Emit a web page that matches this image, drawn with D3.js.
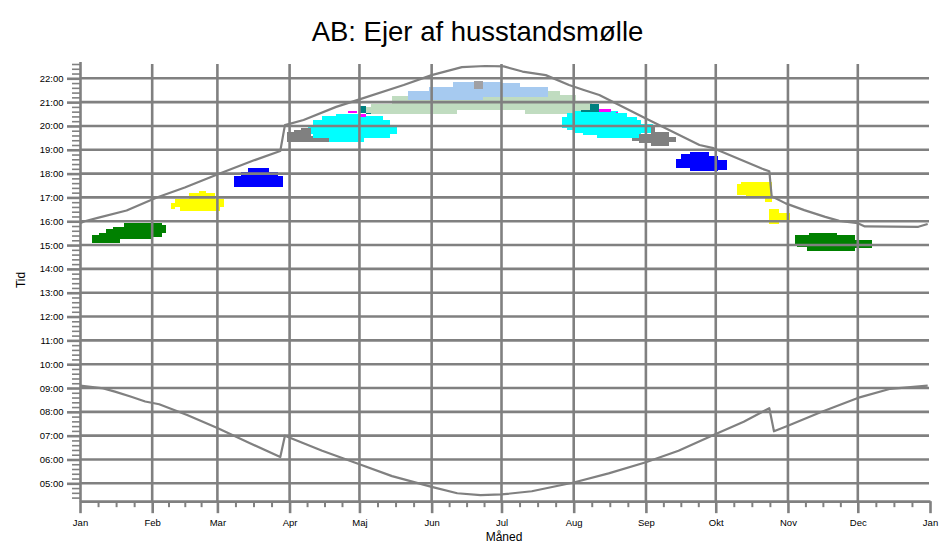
<!DOCTYPE html>
<html><head><meta charset="utf-8">
<script src="https://cdn.jsdelivr.net/npm/d3@7"></script>
<style>
html,body{margin:0;padding:0;background:#fff;}
svg{display:block;font-family:"Liberation Sans",Arial,Helvetica,sans-serif;}
</style></head><body>
<svg id="chart" width="941" height="544"></svg>
<script>
// ---------- data ----------
const titleText = "AB: Ejer af husstandsmølle";
const xTitle = "Måned";
const yTitle = "Tid";
const monthLabels = ["Jan","Feb","Mar","Apr","Maj","Jun","Jul","Aug","Sep","Okt","Nov","Dec","Jan"];
const hourTicks = ["05:00","06:00","07:00","08:00","09:00","10:00","11:00","12:00","13:00",
                   "14:00","15:00","16:00","17:00","18:00","19:00","20:00","21:00","22:00"];

// sunset / sunrise [date, time]
const sunset = [
 ["01-01","15:55"],["01-03","16:00"],["01-09","16:09"],["01-21","16:27"],["02-03","17:00"],
 ["02-15","17:25"],["03-02","18:00"],["03-17","18:34"],["03-28","18:57"],["03-30","20:02"],
 ["04-07","20:15"],["04-21","20:48"],["04-30","21:05"],["05-20","21:43"],["06-01","22:08"],
 ["06-14","22:28"],["06-24","22:31"],["07-02","22:30"],["07-10","22:17"],["07-20","22:08"],
 ["07-30","21:43"],["08-05","21:31"],["08-12","21:18"],["09-01","20:19"],["09-24","19:12"],
 ["09-30","19:04"],["10-21","18:12"],["10-24","18:06"],["10-25","17:03"],["10-31","16:45"],
 ["11-08","16:28"],["11-17","16:11"],["11-23","16:01"],["12-01","15:55"],["12-04","15:47"],
 ["12-27","15:46"],["12-31","15:53"]
];
const sunrise = [
 ["01-01","09:06"],["01-11","08:59"],["01-16","08:51"],["01-23","08:38"],["01-29","08:26"],
 ["02-04","08:19"],["02-16","07:52"],["03-01","07:19"],["03-15","06:41"],["03-28","06:06"],
 ["03-30","07:00"],["04-15","06:22"],["05-01","05:48"],["05-15","05:18"],["06-01","04:51"],
 ["06-12","04:35"],["06-22","04:30"],["07-01","04:32"],["07-14","04:40"],["08-01","05:02"],
 ["08-16","05:25"],["09-01","05:53"],["09-15","06:22"],["10-01","07:04"],["10-13","07:35"],
 ["10-24","08:09"],["10-26","07:11"],["11-01","07:25"],["11-15","07:59"],["12-01","08:35"],
 ["12-15","08:58"],["12-31","09:06"]
];

// shadow cells [fromDate, toDate, fromTime, toTime]
const cellsGreenJan = [
 ["01-06","01-09","15:05","15:25"],["01-09","01-12","15:05","15:30"],["01-12","01-15","15:05","15:40"],
 ["01-15","01-18","15:05","15:45"],["01-18","01-20","15:15","15:45"],["01-20","02-01","15:15","15:55"],
 ["02-01","02-05","15:20","15:55"],["02-05","02-07","15:30","15:50"]
];
const cellsYellowFeb = [
 ["02-09","02-11","16:30","16:45"],["02-11","02-13","16:35","16:55"],["02-13","02-17","16:25","16:55"],
 ["02-17","02-21","16:25","17:10"],["02-21","02-24","16:25","17:15"],["02-24","02-28","16:25","17:10"],
 ["02-28","03-02","16:25","16:55"],["03-02","03-04","16:35","16:55"]
];
const cellsBlueMar = [
 ["03-08","03-11","17:25","17:55"],["03-11","03-14","17:25","18:05"],["03-14","03-23","17:25","18:15"],
 ["03-23","03-27","17:25","18:05"],["03-27","03-29","17:25","17:55"]
];
const cellsGrayApr = [
 ["03-31","04-03","19:20","19:45"],["04-03","04-06","19:20","19:50"],["04-06","04-10","19:20","19:55"],
 ["04-10","04-11","19:20","19:35"],["04-11","04-18","19:20","19:30"]
];
const cellsCyanApr = [
 ["04-09","04-11","19:40","20:00"],["04-11","04-15","19:30","20:15"],["04-15","04-17","19:30","20:25"],
 ["04-17","04-21","19:20","20:25"],["04-21","05-01","19:20","20:30"],["05-01","05-03","19:20","20:25"],
 ["05-03","05-11","19:30","20:25"],["05-11","05-14","19:30","20:15"],["05-14","05-17","19:40","20:00"]
];
const cellsMagentaMay = [["04-26","04-30","20:32","20:37"],["05-01","05-04","20:23","20:30"]];
const cellsTealMay = [["05-01","05-04","20:32","20:50"],["05-04","05-06","20:30","20:33"]];
const cellsLightGreen = [
 ["05-03","05-06","20:32","20:48"],["05-06","05-15","20:31","20:56"],["05-15","06-12","20:31","21:15"],
 ["06-12","07-11","20:39","21:15"],["07-11","07-19","20:31","21:15"],["07-19","07-26","20:31","21:27"],
 ["07-26","08-02","20:31","21:17"],["08-02","08-09","20:36","21:01"]
];
const cellsLightBlue = [
 ["05-22","05-31","21:05","21:27"],["05-31","06-10","21:05","21:38"],["06-10","06-23","21:05","21:50"],
 ["06-23","07-01","21:13","21:50"],["07-01","07-09","21:13","21:47"],["07-09","07-21","21:13","21:38"]
];
const cellsGraySummer = [["06-19","06-23","21:34","21:53"]];
const cellsCyanAug = [
 ["07-27","07-29","19:55","20:23"],["07-29","08-01","19:50","20:32"],["08-01","08-05","19:42","20:38"],
 ["08-05","08-11","19:37","20:38"],["08-11","08-20","19:29","20:38"],["08-20","08-24","19:29","20:32"],
 ["08-24","08-28","19:29","20:23"],["08-28","08-30","19:29","20:15"],["08-30","09-04","19:41","20:06"]
];
const cellsTealAug = [["08-04","08-08","20:35","20:40"],["08-08","08-12","20:35","20:55"]];
const cellsMagentaAug = [["08-12","08-17","20:36","20:43"],["08-19","08-20","20:32","20:36"]];
const cellsGraySep = [
 ["08-26","08-29","19:22","19:30"],["08-29","09-03","19:16","19:40"],["09-03","09-05","19:10","19:58"],
 ["09-05","09-11","19:10","19:46"],["09-11","09-14","19:20","19:33"]
];
const cellsBlueSep = [
 ["09-14","09-16","18:15","18:38"],["09-16","09-20","18:15","18:49"],["09-20","09-28","18:06","18:55"],
 ["09-28","10-02","18:06","18:45"],["10-02","10-06","18:09","18:34"]
];
const cellsYellowOct = [
 ["10-10","10-12","17:06","17:34"],["10-12","10-14","17:06","17:40"],["10-14","10-22","16:58","17:40"],
 ["10-22","10-25","16:49","17:40"]
];
const cellsYellowNov = [["10-24","10-28","15:53","16:30"],["10-28","11-02","15:59","16:20"]];
const cellsGreenNov = [
 ["11-04","11-05","15:00","15:25"],["11-05","11-09","14:54","15:25"],["11-09","11-10","14:45","15:25"],
 ["11-10","11-22","14:45","15:31"],["11-22","11-30","14:45","15:25"],["11-30","12-07","14:52","15:13"]
];

// ---------- styles ----------
const GRID = "#808080";
const layers = [
 [cellsLightGreen, "#c0dcc0"], [cellsLightBlue, "#a6caf0"], [cellsGraySummer, "#a0a0a4"],
 [cellsCyanApr, "#00ffff"], [cellsGrayApr, "#808080"], [cellsMagentaMay, "#ff00ff"], [cellsTealMay, "#008080"],
 [cellsCyanAug, "#00ffff"], [cellsGraySep, "#808080"], [cellsTealAug, "#008080"], [cellsMagentaAug, "#ff00ff"],
 [cellsBlueMar, "#0000ff"], [cellsBlueSep, "#0000ff"],
 [cellsYellowFeb, "#ffff00"], [cellsYellowOct, "#ffff00"], [cellsYellowNov, "#ffff00"],
 [cellsGreenJan, "#008000"], [cellsGreenNov, "#008000"]
];

// ---------- helpers / scales ----------
const YEAR = 2015;
const pDate = d3.timeParse("%Y-%m-%d");
const parseDay = s => pDate(YEAR + "-" + s);
const toHours = s => { const [h, m] = s.split(":").map(Number); return h + m / 60; };

const x = d3.scaleTime().domain([new Date(YEAR,0,1), new Date(YEAR+1,0,1)]).range([80, 930]);
const y = d3.scaleLinear().domain([4.25, 22.7]).range([501.17, 61.62]);

const svg = d3.select("#chart");

// cells
const gCells = svg.append("g");
layers.forEach(([cells, color]) => {
  gCells.append("g").selectAll("rect").data(cells).enter().append("rect")
    .attr("x", d => x(parseDay(d[0])))
    .attr("width", d => x(parseDay(d[1])) - x(parseDay(d[0])))
    .attr("y", d => y(toHours(d[3])))
    .attr("height", d => y(toHours(d[2])) - y(toHours(d[3])))
    .attr("fill", color)
    .attr("shape-rendering", "crispEdges");
});

const hourValues = hourTicks.map(toHours);
const monthDates = d3.timeMonth.range(new Date(YEAR,0,1), new Date(YEAR+1,0,2));

// grid
const gGrid = svg.append("g").attr("stroke", GRID).attr("stroke-width", 2.6);
gGrid.selectAll("line.h").data(hourValues).enter().append("line")
  .attr("x1", 80).attr("x2", 929).attr("y1", d => y(d)).attr("y2", d => y(d));
gGrid.selectAll("line.v").data(monthDates.slice(1, 12)).enter().append("line")
  .attr("x1", d => x(d)).attr("x2", d => x(d)).attr("y1", 64).attr("y2", y(4.25));

// y axis minor
const minorY = [];
for (let m = 264; m <= 1356; m += 12) if (m % 60 !== 0) minorY.push(m / 60);
const gYm = svg.append("g").attr("transform", "translate(80,0)")
  .call(d3.axisLeft(y).tickValues(minorY).tickSize(8).tickSizeOuter(0).tickFormat(""));
gYm.select(".domain").attr("stroke", GRID).attr("stroke-width", 2.6);
gYm.selectAll(".tick line").attr("stroke", GRID).attr("stroke-width", 1.6);

// y axis major
const gY = svg.append("g").attr("transform", "translate(80,0)")
  .call(d3.axisLeft(y).tickValues(hourValues).tickSize(13).tickPadding(3.5)
        .tickFormat((d, i) => hourTicks[i]));
gY.select(".domain").remove();
gY.selectAll(".tick line").attr("stroke", GRID).attr("stroke-width", 2.6);
gY.selectAll(".tick text").attr("font-size", "9.5px").attr("fill", "#000")
  .attr("font-family", "Liberation Sans, Arial, sans-serif");

// x axis minor (quarter months)
const minorX = [];
for (let i = 0; i < 12; i++) {
  const a = monthDates[i].getTime(), b = monthDates[i + 1].getTime();
  for (let k = 1; k < 4; k++) minorX.push(new Date(a + (b - a) * k / 4));
}
const xAxisY = y(4.25);
const gXm = svg.append("g").attr("transform", `translate(0,${xAxisY})`)
  .call(d3.axisBottom(x).tickValues(minorX).tickSize(6).tickSizeOuter(0).tickFormat(""));
gXm.select(".domain").attr("stroke", GRID).attr("stroke-width", 2.6);
gXm.selectAll(".tick line").attr("stroke", GRID).attr("stroke-width", 2);

const gX = svg.append("g").attr("transform", `translate(0,${xAxisY})`)
  .call(d3.axisBottom(x).tickValues(monthDates).tickSize(12).tickPadding(6)
        .tickFormat((d, i) => monthLabels[i]));
gX.select(".domain").remove();
gX.selectAll(".tick line").attr("stroke", GRID).attr("stroke-width", 2.6);
gX.selectAll(".tick text").attr("font-size", "9.5px").attr("fill", "#000")
  .attr("font-family", "Liberation Sans, Arial, sans-serif");

// sunrise / sunset lines
const line = d3.line().x(d => x(parseDay(d[0]))).y(d => y(toHours(d[1])));
[sunset, sunrise].forEach(s => {
  svg.append("path").datum(s).attr("d", line)
    .attr("fill", "none").attr("stroke", GRID).attr("stroke-width", 2.2)
    .attr("stroke-linejoin", "round");
});

// titles
svg.append("text").attr("x", 477.5).attr("y", 41).attr("text-anchor", "middle")
  .attr("font-size", "27.5px").attr("fill", "#000").text(titleText);
svg.append("text").attr("x", 504).attr("y", 541).attr("text-anchor", "middle")
  .attr("font-size", "12px").attr("fill", "#000").text(xTitle);
svg.append("text").attr("transform", "translate(25,280) rotate(-90)").attr("text-anchor", "middle")
  .attr("font-size", "12px").attr("fill", "#000").text(yTitle);
</script>
</body></html>
